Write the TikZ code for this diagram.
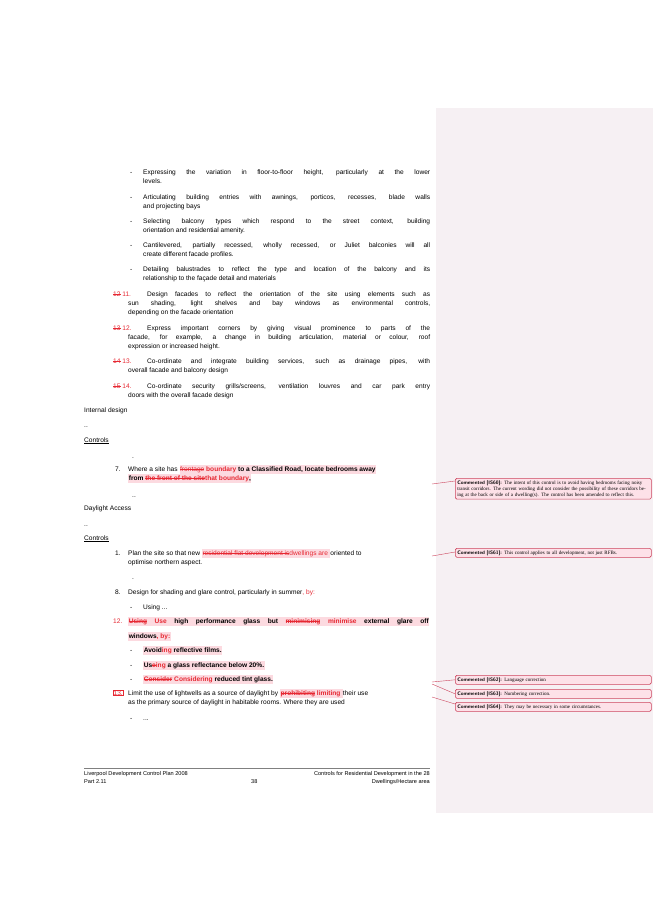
\documentclass[tikz,border=0pt]{standalone}
\usepackage{fontspec}
\setmainfont{Liberation Sans}
\newfontfamily\cmtfont{Liberation Serif}
\definecolor{redline}{RGB}{230,40,50}
\definecolor{hlpink}{RGB}{252,218,224}
\definecolor{panelpink}{RGB}{246,240,243}
\definecolor{boxedge}{RGB}{205,70,95}
\definecolor{boxfill}{RGB}{253,225,232}
\newcommand{\del}[1]{{\color{redline}\setbox0\hbox{#1}\rlap{\rule[0.25em]{\wd0}{0.35pt}}\box0}}
\newcommand{\ins}[1]{{\color{redline}#1}}
\newcommand{\hlp}[1]{{\setlength{\fboxsep}{0.6pt}\colorbox{hlpink}{\strut #1}}}
\newcommand{\fullline}[2]{\makebox[#1pt][s]{#2}}
\tikzset{
  txt/.style={anchor=base west, inner sep=0pt, font=\fontsize{6.6}{8}\selectfont},
  txtr/.style={txt, anchor=base east},
  num/.style={txt, text=redline},
  cmtbox/.style={draw=boxedge, fill=boxfill, rounded corners=1.5pt, line width=0.6pt,
    anchor=north west, text width=192pt, inner sep=2pt, align=left,
    font=\cmtfont\fontsize{5}{6}\selectfont},
  cmtline/.style={draw=boxedge, line width=0.4pt}
}
\newcommand{\cmthead}[1]{{\sffamily\bfseries Commented [#1]:}}
\begin{document}
\begin{tikzpicture}[x=1pt,y=-1pt]
\useasboundingbox (0,0) rectangle (653,923);
\fill[white] (0,0) rectangle (653,923);
% comment panel
\fill[panelpink] (436,108) rectangle (653,813);

% facade bullets
\foreach \y/\a/\b in {174/{Expressing the variation in floor-to-floor height, particularly at the lower}/{levels.},
  199/{Articulating building entries with awnings, porticos, recesses, blade walls}/{and projecting bays},
  223/{Selecting balcony types which respond to the street context, building}/{orientation and residential amenity.},
  247/{Cantilevered, partially recessed, wholly recessed, or Juliet balconies will all}/{create different facade profiles.},
  271/{Detailing balustrades to reflect the type and location of the balcony and its}/{relationship to the façade detail and materials}}{
  \node[txt] at (130,\y) {-};
  \node[txt] at (143,\y) {\fullline{287}{\a}};
  \node[txt] at (143,\y+9) {\b};
}

% numbered facade controls
\node[num] (n11) at (113,296) {\del{12} 11.};
\node[txt] at (147,296) {\fullline{283}{Design facades to reflect the orientation of the site using elements such as}};
\node[txt] at (128,305) {\fullline{302}{sun shading, light shelves and bay windows as environmental controls,}};
\node[txt] at (128,314) {depending on the facade orientation};
\node[num] (n12) at (113,330) {\del{13} 12.};
\node[txt] at (147,330) {\fullline{283}{Express important corners by giving visual prominence to parts of the}};
\node[txt] at (128,339) {\fullline{302}{facade, for example, a change in building articulation, material or colour, roof}};
\node[txt] at (128,348) {expression or increased height.};
\node[num] (n13) at (113,363) {\del{14} 13.};
\node[txt] at (147,363) {\fullline{283}{Co-ordinate and integrate building services, such as drainage pipes, with}};
\node[txt] at (128,372) {overall facade and balcony design};
\node[num] (n14) at (113,388) {\del{15} 14.};
\node[txt] at (147,388) {\fullline{283}{Co-ordinate security grills/screens, ventilation louvres and car park entry}};
\node[txt] at (128,397) {doors with the overall facade design};

% internal design
\node[txt] (hint) at (84,412) {Internal design};
\node[txt] at (84,427) {..};
\node[txt] (cint) at (84,442) {\underline{Controls}};
\node[txt] at (132,458) {.};
\node[txt] at (115,471) {7.};
\node[txt] (c7a) at (128,471) {Where a site has \hlp{\del{frontage} \ins{\textbf{boundary}} \textbf{to a Classified Road, locate bedrooms away}}};
\node[txt] (c7b) at (128,480) {\hlp{\textbf{from} \del{\textbf{the front of the site}}\ins{\textbf{that boundary}}\textbf{,}}};
\node[txt] at (132,497) {..};

% daylight access
\node[txt] (hday) at (84,510) {Daylight Access};
\node[txt] at (84,526) {..};
\node[txt] (cday) at (84,540) {\underline{Controls}};
\node[txt] at (115,555) {1.};
\node[txt] (c1a) at (128,555) {Plan the site so that new \hlp{\del{residential flat development is}\ins{dwellings are} }oriented to};
\node[txt] at (128,564) {optimise northern aspect.};
\node[txt] at (132,579) {.};
\node[txt] at (115,594) {8.};
\node[txt] at (128,594) {Design for shading and glare control, particularly in summer\ins{, by:}};
\node[txt] at (130,609) {-};
\node[txt] at (143,609) {Using ...};
\node[num] at (113,623) {12.};
\node[txt] (c12a) at (128,623) {\hlp{\fullline{300}{\textbf{\del{Using} \ins{Use} high performance glass but \del{minimising} \ins{minimise} external glare off}}}};
\node[txt] at (128,638) {\hlp{\textbf{windows\ins{, by:}}}};
\foreach \y/\t in {652/{Avoid\ins{ing} reflective films.}, 667/{Us\del{e}\ins{ing} a glass reflectance below 20\%.}, 681/{\del{Consider} \ins{Considering} reduced tint glass.}}{
  \node[txt] at (130,\y) {-};
  \node[txt] at (143,\y) {\hlp{\textbf{\t}}};
}
\node[num, draw=redline, line width=0.3pt, inner sep=0.5pt] at (113,695) {13.};
\node[txt] (c13a) at (128,695) {Limit the use of lightwells as a source of daylight by \hlp{\del{\textbf{prohibiting}} \ins{\textbf{limiting}} }their use};
\node[txt] at (128,704) {as the primary source of daylight in habitable rooms. Where they are used};
\node[txt] at (130,720) {-};
\node[txt] at (143,720) {...};

% footer
\draw[line width=0.4pt, gray] (84,768) -- (430,768);
\node[txt, font=\fontsize{5.6}{7}\selectfont] at (84,775) {Liverpool Development Control Plan 2008};
\node[txt, font=\fontsize{5.6}{7}\selectfont] at (84,783) {Part 2.11};
\node[txt, font=\fontsize{5.6}{7}\selectfont] at (251,783) {38};
\node[txtr, font=\fontsize{5.6}{7}\selectfont] at (430,775) {Controls for Residential Development in the 28};
\node[txtr, font=\fontsize{5.6}{7}\selectfont] at (430,783) {Dwellings/Hectare area};

% comments
\node[cmtbox] (is60) at (455,478) {\cmthead{IS60} The intent of this control is to avoid having bedrooms facing noisy transit corridors. The current wording did not consider the possibility of these corridors being at the back or side of a dwelling(s). The control has been amended to reflect this.};
\node[cmtbox] (is61) at (455,548) {\cmthead{IS61} This control applies to all development, not just RFBs.};
\node[cmtbox] (is62) at (455,675) {\cmthead{IS62} Language correction};
\node[cmtbox] (is63) at (455,689) {\cmthead{IS63} Numbering correction.};
\node[cmtbox] (is64) at (455,702) {\cmthead{IS64} They may be necessary in some circumstances.};

\coordinate (a60) at (432,484);
\coordinate (a61) at (432,556);
\coordinate (a62) at (432,682);
\coordinate (a63) at (432,684);
\coordinate (a64) at (432,697);
\draw[cmtline] (a60) -- (is60.west |- 0,481);
\draw[cmtline] (a61) -- (is61.west |- 0,552);
\draw[cmtline] (a62) -- (is62.west);
\draw[cmtline] (a63) -- (is63.west);
\draw[cmtline] (a64) -- (is64.north west |- 0,704);
\end{tikzpicture}
\end{document}
